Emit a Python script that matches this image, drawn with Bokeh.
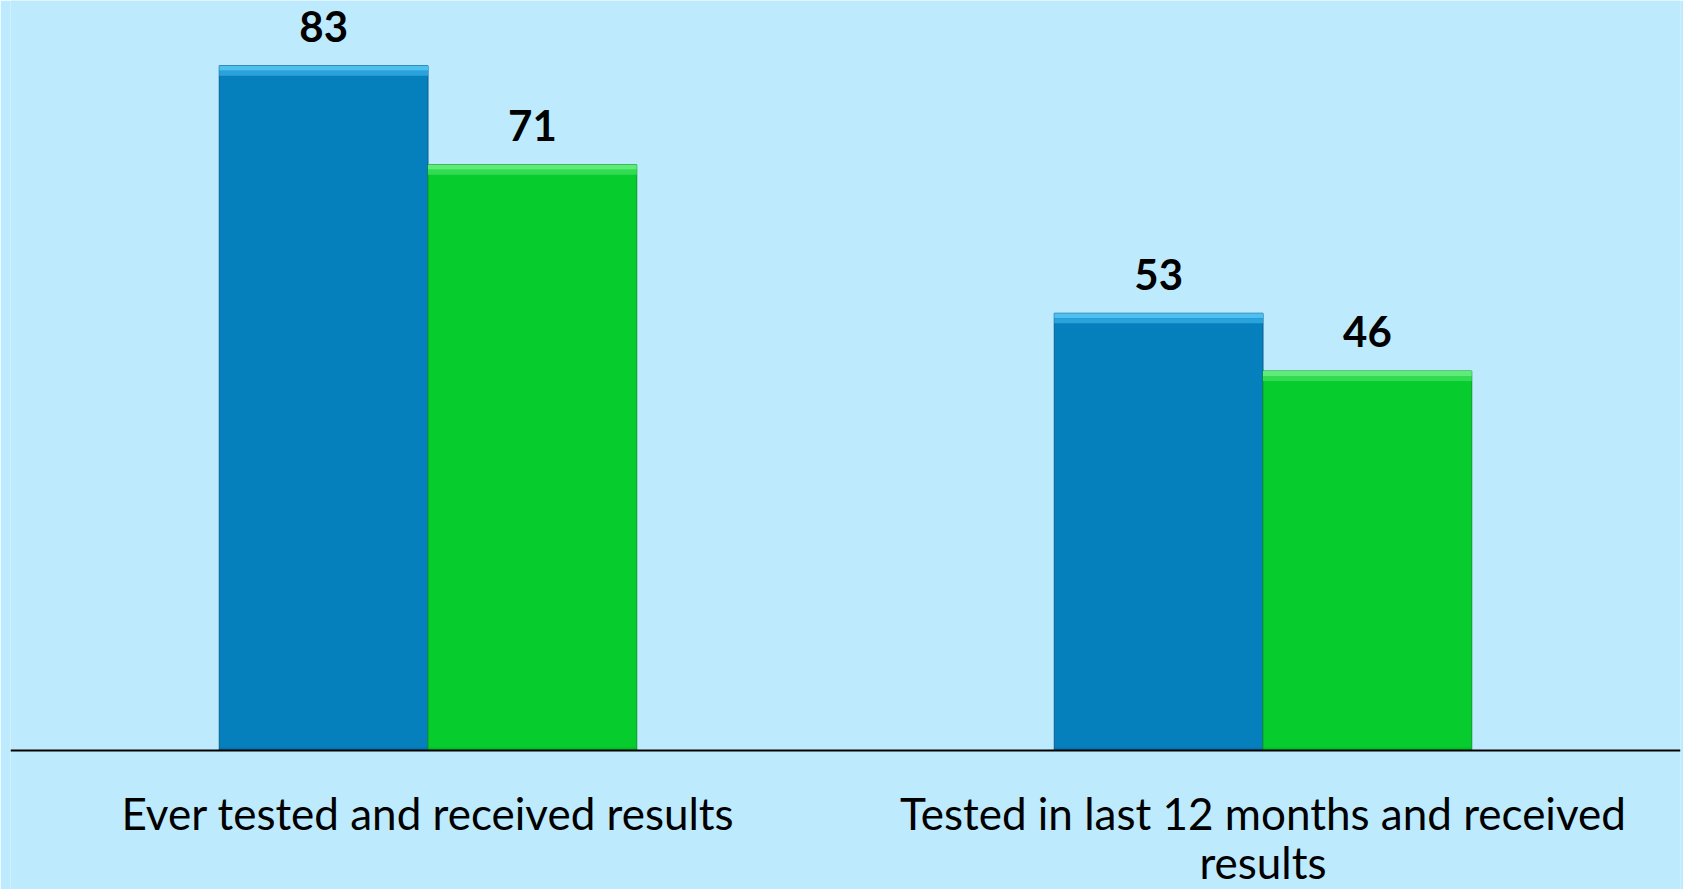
from bokeh.plotting import figure
from bokeh.models import Range1d, Span, ColumnDataSource
from bokeh.core.properties import value
from bokeh.embed import file_html
from bokeh.resources import INLINE

# ---- data ----
categories = ["Ever tested and received results",
              "Tested in last 12 months and received\nresults"]
series_a = [83, 53]   # blue bars
series_b = [71, 46]   # green bars

# ---- styles ----
BG = "#BDEAFD"
BLUE, BLUE_TOP, BLUE_TOP2, BLUE_LINE = "#0580BD", "#4DBFF0", "#2BA2DA", "#0B5F8E"
GREEN, GREEN_TOP, GREEN_TOP2, GREEN_LINE = "#06CC2E", "#5EEB78", "#33DB52", "#0A9A25"
FONT = "Lato"

W, H = 1683, 889
Y0, Y1 = -16.85, 90.91
X0, X1 = 0.0, 2.0
px = (Y1 - Y0) / H          # data units per screen pixel (vertical)

p = figure(width=W, height=H, x_range=Range1d(X0, X1), y_range=Range1d(Y0, Y1),
           output_backend="svg", toolbar_location=None,
           x_axis_location=None, y_axis_location=None,
           min_border_left=10, min_border_right=3, min_border_top=0, min_border_bottom=0)
p.background_fill_color = BG
p.border_fill_color = BG
p.outline_line_color = None
p.grid.visible = False

bw = 0.25
centers = [i + 0.5 for i in range(len(categories))]

def draw_series(vals, offset, fill, top1, top2, line):
    left = [c + offset for c in centers]
    right = [c + offset + bw for c in centers]
    src = ColumnDataSource(dict(left=left, right=right, top=vals, bottom=[0] * len(vals),
                                t1b=[v - 5 * px for v in vals],
                                t2b=[v - 10 * px for v in vals],
                                t2t=[v - 5 * px for v in vals],
                                bb=[3 * px] * len(vals),
                                xc=[(l + r) / 2 for l, r in zip(left, right)],
                                label=[str(v) for v in vals]))
    p.quad(left="left", right="right", top="top", bottom="bottom", source=src,
           fill_color=fill, line_color=line, line_width=1)
    p.quad(left="left", right="right", top="top", bottom="t1b", source=src,
           fill_color=top1, line_color=None)
    p.quad(left="left", right="right", top="t2t", bottom="t2b", source=src,
           fill_color=top2, line_color=None)
    p.quad(left="left", right="right", top="bb", bottom="bottom", source=src,
           fill_color=line, fill_alpha=0.35, line_color=None)
    p.text(x="xc", y="top", text="label", source=src, text_align="center",
           text_baseline="alphabetic", y_offset=-39, text_font=value(FONT),
           text_font_style="bold", text_font_size="42px", text_color="black")

draw_series(series_a, -bw, BLUE, BLUE_TOP, BLUE_TOP2, BLUE_LINE)
draw_series(series_b, 0.0, GREEN, GREEN_TOP, GREEN_TOP2, GREEN_LINE)

# baseline axis line
p.add_layout(Span(location=0, dimension="width", line_color="black", line_width=2))

# category labels (multi-line)
lx, ly, lt, lo = [], [], [], []
for c, cat in zip(centers, categories):
    for j, line in enumerate(cat.split("\n")):
        lx.append(c); ly.append(0); lt.append(line); lo.append(63 + 49 * j)
lsrc = ColumnDataSource(dict(x=lx, y=ly, text=lt, yo=lo))
p.text(x="x", y="y", text="text", y_offset="yo", source=lsrc, text_align="center",
       text_baseline="alphabetic", text_font=value(FONT), text_font_size="44px",
       text_color="black")

html = file_html(p, INLINE)
open("out.html", "w").write(html)
